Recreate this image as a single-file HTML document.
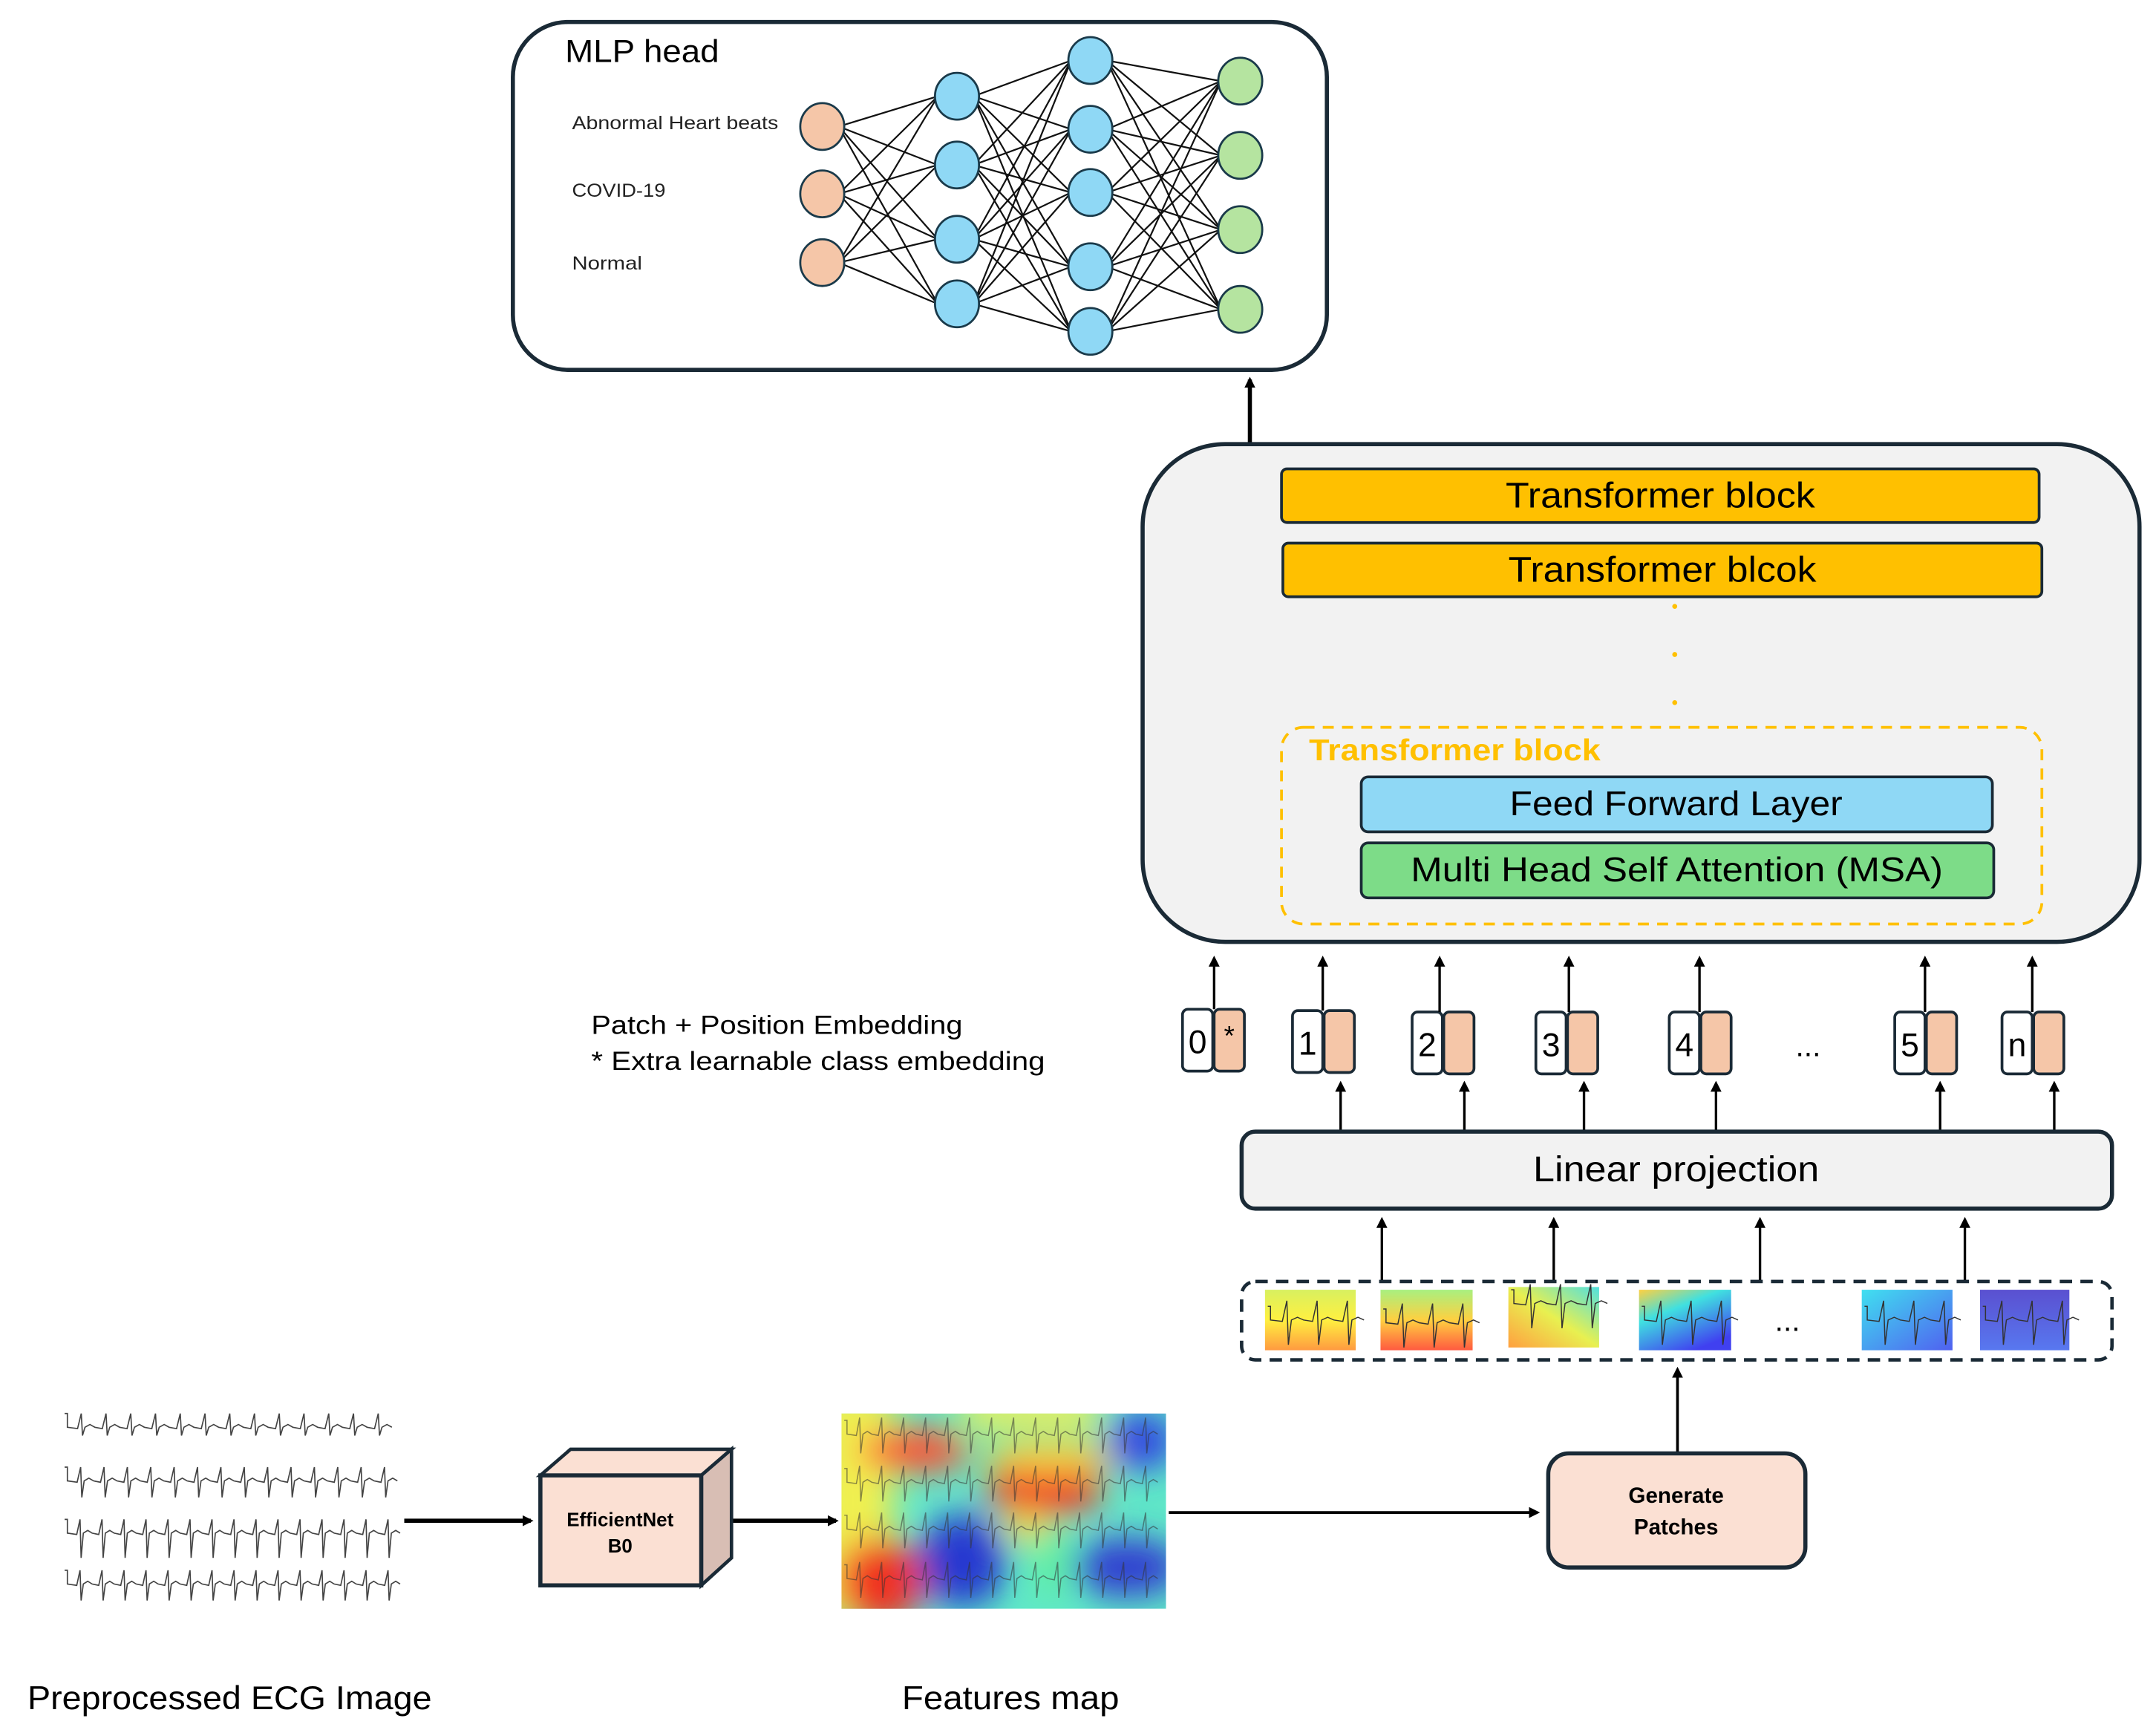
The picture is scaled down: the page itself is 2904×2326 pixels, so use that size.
<!DOCTYPE html>
<html><head><meta charset="utf-8">
<style>
html,body{margin:0;padding:0;background:#fff;}
svg{display:block;}
text{font-family:"Liberation Sans",sans-serif;}
</style></head>
<body>
<svg id="s" width="2904" height="2326" viewBox="0 0 1568 1256" preserveAspectRatio="none" xmlns="http://www.w3.org/2000/svg">
<defs>
<marker id="ah" markerWidth="8" markerHeight="8" refX="6" refY="4" orient="auto" markerUnits="userSpaceOnUse">
<path d="M0,0 L8,4 L0,8 z" fill="#000"/></marker>
<filter id="bl" filterUnits="userSpaceOnUse" x="560" y="980" width="340" height="240"><feGaussianBlur stdDeviation="12"/></filter>
<clipPath id="fmc"><rect x="612" y="1028" width="236" height="142"/></clipPath>
<linearGradient id="p1" x1="0" y1="0" x2="0" y2="1"><stop offset="0" stop-color="#d8f060"/><stop offset="0.5" stop-color="#fff040"/><stop offset="1" stop-color="#ff9a40"/></linearGradient>
<linearGradient id="p2" x1="0" y1="0" x2="0" y2="1"><stop offset="0" stop-color="#a8f080"/><stop offset="0.5" stop-color="#ffd040"/><stop offset="1" stop-color="#ff5a40"/></linearGradient>
<linearGradient id="p3" x1="1" y1="0" x2="0" y2="1"><stop offset="0" stop-color="#50e0e0"/><stop offset="0.5" stop-color="#e8f050"/><stop offset="1" stop-color="#ffa040"/></linearGradient>
<linearGradient id="p4" x1="0" y1="0" x2="0.6" y2="1"><stop offset="0" stop-color="#ffd040"/><stop offset="0.4" stop-color="#40e0e0"/><stop offset="1" stop-color="#4040f0"/></linearGradient>
<linearGradient id="p5" x1="0" y1="0" x2="1" y2="1"><stop offset="0" stop-color="#40e0f0"/><stop offset="1" stop-color="#5060f0"/></linearGradient>
<linearGradient id="p6" x1="0" y1="0" x2="0" y2="1"><stop offset="0" stop-color="#5a50d0"/><stop offset="1" stop-color="#5878f0"/></linearGradient>
</defs>

<!-- MLP head -->
<rect x="373" y="16" width="592" height="253" rx="40" fill="#fff" stroke="#1a2a36" stroke-width="3"/>
<text x="411" y="45" font-size="23" textLength="112" lengthAdjust="spacingAndGlyphs">MLP head</text>
<text x="416" y="94" font-size="13.5" fill="#222" textLength="150" lengthAdjust="spacingAndGlyphs">Abnormal Heart beats</text>
<text x="416" y="143" font-size="13.5" fill="#222" textLength="68" lengthAdjust="spacingAndGlyphs">COVID-19</text>
<text x="416" y="196" font-size="13.5" fill="#222" textLength="51" lengthAdjust="spacingAndGlyphs">Normal</text>
<g id="net"></g>

<line x1="909" y1="322" x2="909" y2="276" stroke="#000" stroke-width="3" marker-end="url(#ah)"/>

<!-- Transformer -->
<rect x="831" y="323" width="725" height="362" rx="60" fill="#f2f2f2" stroke="#1a2a36" stroke-width="3"/>
<rect x="932" y="341" width="551" height="39" rx="4" fill="#ffc000" stroke="#1a2a36" stroke-width="2"/>
<text x="1095" y="369" font-size="26" textLength="225" lengthAdjust="spacingAndGlyphs">Transformer block</text>
<rect x="933" y="395" width="552" height="39" rx="4" fill="#ffc000" stroke="#1a2a36" stroke-width="2"/>
<text x="1097" y="423" font-size="26" textLength="224" lengthAdjust="spacingAndGlyphs">Transformer blcok</text>
<circle cx="1218" cy="441" r="1.8" fill="#ffc000"/><circle cx="1218" cy="476" r="1.8" fill="#ffc000"/><circle cx="1218" cy="511" r="1.8" fill="#ffc000"/>
<rect x="932" y="529" width="553" height="143" rx="16" fill="none" stroke="#ffc000" stroke-width="2" stroke-dasharray="8,6"/>
<text x="952" y="553" font-size="22" font-weight="bold" fill="#ffc000" textLength="212" lengthAdjust="spacingAndGlyphs">Transformer block</text>
<rect x="990" y="565" width="459" height="40" rx="5" fill="#8fd8f5" stroke="#1a2a36" stroke-width="2"/>
<text x="1098" y="593" font-size="25" textLength="242" lengthAdjust="spacingAndGlyphs">Feed Forward Layer</text>
<rect x="990" y="613" width="460" height="40" rx="5" fill="#7ddc88" stroke="#1a2a36" stroke-width="2"/>
<text x="1026" y="641" font-size="25" textLength="387" lengthAdjust="spacingAndGlyphs">Multi Head Self Attention (MSA)</text>

<g id="tok"></g>
<text x="1315" y="768" font-size="22" text-anchor="middle">...</text>

<text x="430" y="752" font-size="19" textLength="270" lengthAdjust="spacingAndGlyphs">Patch + Position Embedding</text>
<text x="430" y="778" font-size="19" textLength="330" lengthAdjust="spacingAndGlyphs">* Extra learnable class embedding</text>

<rect x="903" y="823" width="633" height="56" rx="10" fill="#f2f2f2" stroke="#1a2a36" stroke-width="3"/>
<text x="1115" y="859" font-size="26" textLength="208" lengthAdjust="spacingAndGlyphs">Linear projection</text>

<rect x="903" y="932" width="633" height="57" rx="10" fill="none" stroke="#1a2a36" stroke-width="2.5" stroke-dasharray="9,6"/>
<rect x="920" y="938" width="66" height="44" fill="url(#p1)"/>
<rect x="1004" y="938" width="67" height="44" fill="url(#p2)"/>
<rect x="1097" y="936" width="66" height="44" fill="url(#p3)"/>
<rect x="1192" y="938" width="67" height="44" fill="url(#p4)"/>
<text x="1300" y="968" font-size="22" text-anchor="middle">...</text>
<rect x="1354" y="938" width="66" height="44" fill="url(#p5)"/>
<rect x="1440" y="938" width="65" height="44" fill="url(#p6)"/>
<g id="pecg" fill="none" stroke="#333" stroke-width="0.8"></g>

<line x1="1220" y1="1057" x2="1220" y2="996" stroke="#000" stroke-width="2" marker-end="url(#ah)"/>
<rect x="1126" y="1057" width="187" height="83" rx="15" fill="#fbe0d3" stroke="#1a2a36" stroke-width="3"/>
<text x="1219" y="1093" font-size="16" font-weight="bold" text-anchor="middle">Generate</text>
<text x="1219" y="1116" font-size="16" font-weight="bold" text-anchor="middle">Patches</text>
<line x1="850" y1="1100" x2="1118" y2="1100" stroke="#000" stroke-width="2" marker-end="url(#ah)"/>

<!-- Features map -->
<g clip-path="url(#fmc)">
<rect x="612" y="1028" width="236" height="142" fill="#60e8c8"/>
<g filter="url(#bl)">
<rect x="590" y="1010" width="60" height="170" fill="#f0f050"/>
<rect x="700" y="1010" width="100" height="30" fill="#e8f060"/>
<ellipse cx="665" cy="1055" rx="40" ry="16" fill="#ff5030"/>
<ellipse cx="760" cy="1082" rx="42" ry="22" fill="#f03828"/>
<ellipse cx="765" cy="1060" rx="50" ry="12" fill="#f8d040"/>
<ellipse cx="830" cy="1048" rx="26" ry="22" fill="#3048e0"/>
<ellipse cx="700" cy="1135" rx="32" ry="34" fill="#2838d0"/>
<ellipse cx="820" cy="1140" rx="40" ry="22" fill="#3040d0"/>
<ellipse cx="640" cy="1150" rx="32" ry="32" fill="#f03020"/>
<ellipse cx="765" cy="1135" rx="14" ry="28" fill="#60f0a0"/>
<ellipse cx="745" cy="1110" rx="15" ry="12" fill="#f8e040"/>
</g>
</g>
<g id="fecg" fill="none" stroke="#333" stroke-width="0.8"></g>

<!-- EfficientNet cube -->
<line x1="294" y1="1106" x2="386" y2="1106" stroke="#000" stroke-width="3" marker-end="url(#ah)"/>
<line x1="532" y1="1106" x2="608" y2="1106" stroke="#000" stroke-width="3" marker-end="url(#ah)"/>
<polygon points="393,1073 415,1054 532,1054 510,1073" fill="#fbe0d3" stroke="#1a2a36" stroke-width="2.5"/>
<polygon points="510,1073 532,1054 532,1133 510,1153" fill="#d8beb4" stroke="#1a2a36" stroke-width="2.5"/>
<rect x="393" y="1073" width="117" height="80" fill="#fbe0d3" stroke="#1a2a36" stroke-width="3"/>
<text x="451" y="1110" font-size="14" font-weight="bold" text-anchor="middle">EfficientNet</text>
<text x="451" y="1129" font-size="14" font-weight="bold" text-anchor="middle">B0</text>

<g id="ecg" fill="none" stroke="#444" stroke-width="0.9"></g>

<text x="20" y="1243" font-size="24" textLength="294" lengthAdjust="spacingAndGlyphs">Preprocessed ECG Image</text>
<text x="656" y="1243" font-size="24" textLength="158" lengthAdjust="spacingAndGlyphs">Features map</text>
</svg>
<script>
var NS="http://www.w3.org/2000/svg";
function el(p,t,a){var e=document.createElementNS(NS,t);for(var k in a)e.setAttribute(k,a[k]);p.appendChild(e);return e;}
var net=document.getElementById('net');
var L=[{x:598,ys:[92,141,191],c:'#f5c6a8'},{x:696,ys:[70,120,174,221],c:'#8fd8f5'},{x:793,ys:[44,94,140,194,241],c:'#8fd8f5'},{x:902,ys:[59,113,167,225],c:'#b5e4a0'}];
for(var i=0;i<3;i++)for(var a=0;a<L[i].ys.length;a++)for(var b=0;b<L[i+1].ys.length;b++)
 el(net,'line',{x1:L[i].x+12,y1:L[i].ys[a],x2:L[i+1].x-14,y2:L[i+1].ys[b],stroke:'#111','stroke-width':1.2});
L.forEach(function(l){l.ys.forEach(function(y){el(net,'ellipse',{cx:l.x,cy:y,rx:16,ry:17,fill:l.c,stroke:'#1a3a4a','stroke-width':1.5});});});
var tok=document.getElementById('tok');
var T=[[860,'0',734,883,740],[940,'1',735,962,975],[1027,'2',736,1047,1065],[1117,'3',736,1141,1152],[1214,'4',736,1236,1248],[1378,'5',736,1400,1411],[1456,'n',736,1478,1494]];
T.forEach(function(t,i){
 var x=t[0],y=t[2];
 el(tok,'rect',{x:x,y:y,width:22,height:45,rx:4,fill:'#fff',stroke:'#1a2a36','stroke-width':2});
 el(tok,'rect',{x:x+23,y:y,width:22,height:45,rx:4,fill:'#f5c6a8',stroke:'#1a2a36','stroke-width':2});
 var tx=el(tok,'text',{x:x+11,y:y+32,'font-size':24,'text-anchor':'middle'});tx.textContent=t[1];
 if(i==0){var s=el(tok,'text',{x:x+34,y:y+26,'font-size':20,'text-anchor':'middle'});s.textContent='*';}
 el(tok,'line',{x1:t[3],y1:y,x2:t[3],y2:697,stroke:'#000','stroke-width':1.8,'marker-end':'url(#ah)'});
 if(i>0)el(tok,'line',{x1:t[4],y1:823,x2:t[4],y2:788,stroke:'#000','stroke-width':1.8,'marker-end':'url(#ah)'});
});
[1005,1130,1280,1429].forEach(function(x){el(tok,'line',{x1:x,y1:932,x2:x,y2:887,stroke:'#000','stroke-width':1.8,'marker-end':'url(#ah)'});});
function ecgPath(x0,x1,y,step,amp,dn){var d='M'+x0+','+(y-10)+' L'+(x0+2)+','+(y-10)+' L'+(x0+2)+','+y;var x=x0+4;
 while(x<x1-step/2){d+=' L'+(x+step*0.3)+','+(y+1)+' L'+(x+step*0.45)+','+(y-amp)+' L'+(x+step*0.5)+','+(y+dn)+' L'+(x+step*0.6)+','+y+' L'+(x+step*0.8)+','+(y-2)+' L'+(x+step)+','+y;x+=step;}
 return d;}
var ecg=document.getElementById('ecg');
[[1038,18,6],[1077,17,12],[1115,16,18],[1152,16,12]].forEach(function(r){el(ecg,'path',{d:ecgPath(47,290,r[0],r[1],10,r[2])});});
var fe=document.getElementById('fecg');
[1043,1078,1112,1148].forEach(function(y){el(fe,'path',{d:ecgPath(614,846,y,16,12,14),opacity:0.55});});
var pe=document.getElementById('pecg');
[[920,986,960],[1004,1071,962],[1097,1163,948],[1192,1259,960],[1354,1420,960],[1440,1505,960]].forEach(function(p){el(pe,'path',{d:ecgPath(p[0]+2,p[1],p[2],22,14,18)});});
</script>
</body></html>
